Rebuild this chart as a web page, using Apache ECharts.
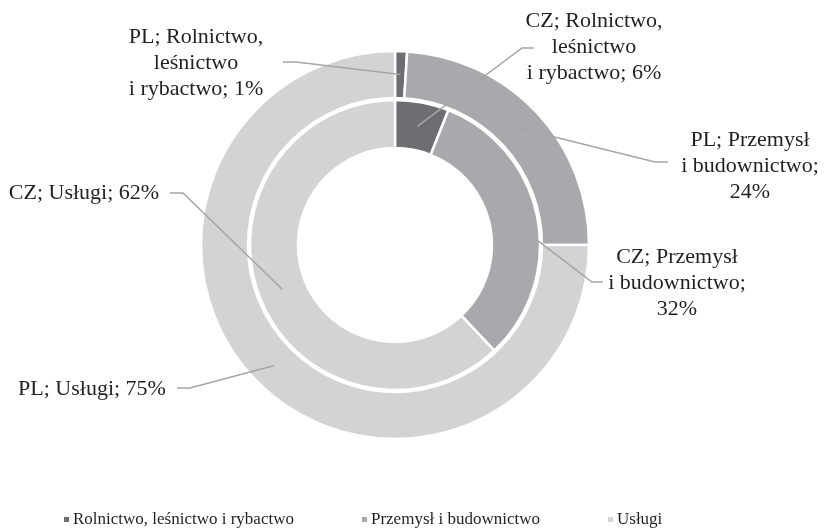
<!DOCTYPE html>
<html>
<head>
<meta charset="utf-8">
<script src="https://cdn.jsdelivr.net/npm/echarts@6/dist/echarts.min.js"></script>
<style>
html,body{margin:0;padding:0;background:#fff;}
#chart{width:829px;height:532px;}
</style>
</head>
<body>
<div id="chart"></div>
<script>
// ---- data ----
const categories = ['Rolnictwo, leśnictwo i rybactwo', 'Przemysł i budownictwo', 'Usługi'];
const seriesNames = ['PL', 'CZ'];
const plValues = [1, 24, 75];
const czValues = [6, 32, 62];

// ---- layout / style constants ----
const COLORS = ['#6d6e71', '#a7a9ac', '#d1d3d4'];
const CENTER = [395, 245];
const OUTER_R = [147, 194];
const INNER_R = [97, 145];
const FONT = '"Liberation Serif", "Times New Roman", serif';
// label anchor (centre) and leader line elbow / end, per series [PL, CZ] per category
const LABEL_POS = [
  [ {x:196, y:63, elbow:[296,62], end:[283,62]},
    {x:750, y:166, elbow:[655,162], end:[668,162]},
    {x:92, y:389, elbow:[190,388], end:[177,388]} ],
  [ {x:594, y:47, elbow:[522,48], end:[534,48]},
    {x:677, y:283, elbow:[592,282], end:[603,282]},
    {x:84, y:193, elbow:[183,193], end:[170,193]} ]
];
const RADII = [OUTER_R, INNER_R];
const VALUES = [plValues, czValues];

function wrapLabel(text, idx) {
  if (idx === 0) return text.replace('Rolnictwo, ', 'Rolnictwo,\n').replace(' i rybactwo', '\ni rybactwo');
  if (idx === 1) return text.replace('Przemysł ', 'Przemysł\n').replace('budownictwo; ', 'budownictwo;\n');
  return text;
}

function midRingStart(seriesIdx, dataIdx, pts) {
  const r = RADII[seriesIdx];
  const vals = VALUES[seriesIdx];
  const k = (r[0] + r[1]) / 2;
  if (pts && pts[0]) {
    const dx = pts[0][0] - CENTER[0], dy = pts[0][1] - CENTER[1];
    const len = Math.sqrt(dx*dx + dy*dy) || 1;
    return [CENTER[0] + dx / len * k, CENTER[1] + dy / len * k];
  }
  const total = vals.reduce((a, b) => a + b, 0);
  let cum = 0;
  for (let i = 0; i < dataIdx; i++) cum += vals[i];
  const a = (cum + vals[dataIdx] / 2) / total * 2 * Math.PI;
  return [CENTER[0] + Math.sin(a) * k, CENTER[1] - Math.cos(a) * k];
}

// base ring: coloured sectors only
function ringSeries(sIdx) {
  return {
    type: 'pie',
    name: seriesNames[sIdx],
    z: 2,
    center: CENTER,
    radius: RADII[sIdx],
    startAngle: 90,
    clockwise: true,
    silent: true,
    itemStyle: { borderColor: '#ffffff', borderWidth: 2.5 },
    label: { show: false },
    labelLine: { show: false },
    data: categories.map((c, i) => ({ name: c, value: VALUES[sIdx][i], itemStyle: { color: COLORS[i] } }))
  };
}

// overlay ring: transparent sectors carrying labels + leader lines drawn above everything
function labelSeries(sIdx) {
  return {
    type: 'pie',
    name: seriesNames[sIdx],
    z: 10,
    center: CENTER,
    radius: RADII[sIdx],
    startAngle: 90,
    clockwise: true,
    avoidLabelOverlap: false,
    silent: true,
    legendHoverLink: false,
    itemStyle: { color: 'rgba(0,0,0,0)', borderWidth: 0 },
    label: {
      show: true,
      position: 'outside',
      fontFamily: FONT,
      fontSize: 22,
      lineHeight: 26,
      color: '#231f20',
      align: 'center',
      formatter: p => wrapLabel(p.seriesName + '; ' + p.name + '; ' + p.value + '%', p.dataIndex)
    },
    labelLine: { show: true, length: 10, length2: 10, smooth: false,
      lineStyle: { color: '#a5a5a5', width: 1.5 } },
    labelLayout: function (params) {
      const pos = LABEL_POS[sIdx][params.dataIndex];
      const start = midRingStart(sIdx, params.dataIndex, params.labelLinePoints);
      return {
        x: pos.x, y: pos.y, align: 'center', verticalAlign: 'middle',
        labelLinePoints: [start, pos.elbow, pos.end]
      };
    },
    data: categories.map((c, i) => ({ name: c, value: VALUES[sIdx][i], itemStyle: { color: 'rgba(0,0,0,0)' } }))
  };
}

const chart = echarts.init(document.getElementById('chart'), null, { renderer: 'canvas' });
chart.setOption({
  animation: false,
  backgroundColor: '#ffffff',
  legend: {
    data: categories.map((c, i) => ({ name: c, itemStyle: { color: COLORS[i] } })),
    left: 57,
    top: 506,
    icon: 'rect',
    itemWidth: 7,
    itemHeight: 7,
    itemGap: 66,
    textStyle: { fontFamily: FONT, fontSize: 17, color: '#231f20', padding: [0, 0, 0, -2] }
  },
  series: [
    ringSeries(0),
    ringSeries(1),
    labelSeries(0),
    labelSeries(1)
  ]
});
</script>
</body>
</html>
